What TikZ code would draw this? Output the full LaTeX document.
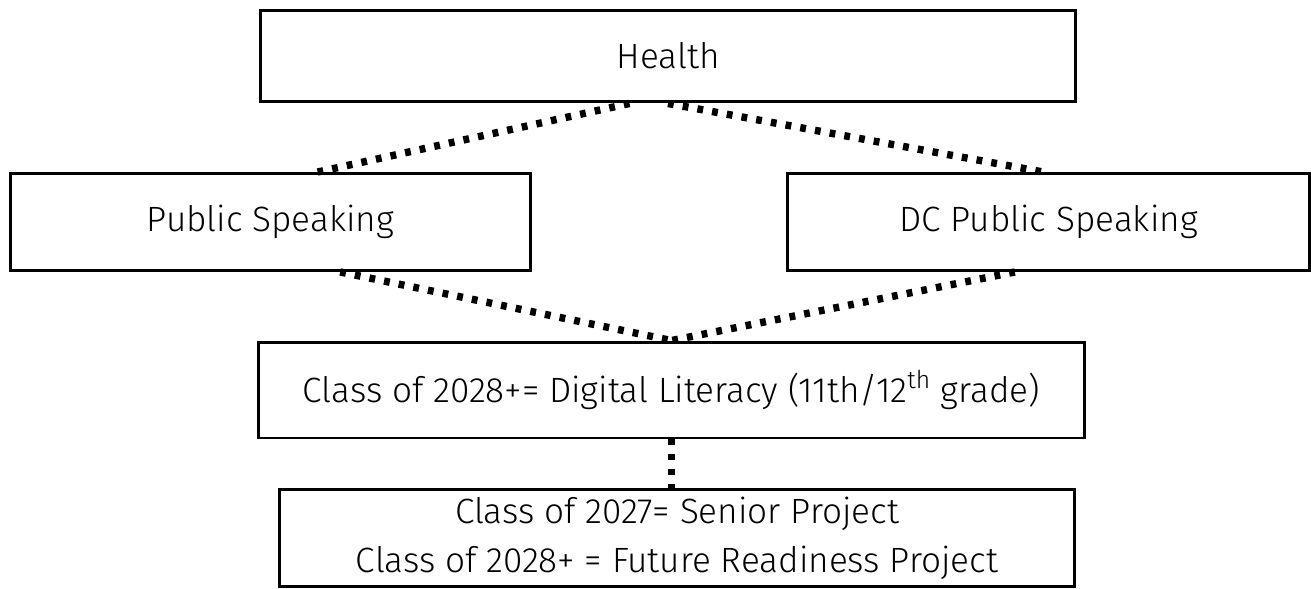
\documentclass[tikz,border=0pt]{standalone}
\usepackage{fontspec}
\setmainfont{Fira Sans Light}
\usetikzlibrary{calc}

\begin{document}
\begin{tikzpicture}[x=0.02cm,y=-0.02cm,
    box/.style={draw,line width=1.7pt,align=center,inner sep=0pt,
                font=\fontsize{20}{28}\selectfont},
    link/.style={line width=4.2pt,dash pattern=on 3.3pt off 5.2pt}]

  \useasboundingbox (0,0) rectangle (1311,588);

  \node[box,minimum width=16.32cm,minimum height=1.84cm] (hl)  at (668,56)    {Health};
  \node[box,minimum width=10.42cm,minimum height=1.94cm] (ps)  at (270.5,222) {Public Speaking};
  \node[box,minimum width=10.46cm,minimum height=1.94cm] (dc)  at (1048.5,222) {DC Public Speaking};
  \node[box,minimum width=16.54cm,minimum height=1.92cm] (dl)  at (671.5,390) {Class of 2028+= Digital Literacy (11th/12\textsuperscript{th} grade)};
  \node[box,minimum width=15.90cm,minimum height=1.94cm] (sp)  at (677,538)   {Class of 2027= Senior Project\\Class of 2028+ = Future Readiness Project};

  % dotted links
  \draw[link] ($(hl.south west)!0.453!(hl.south east)$) -- ($(ps.north west)!0.59!(ps.north east)$);
  \draw[link] (hl.south) -- ($(dc.north west)!0.49!(dc.north east)$);
  \draw[link] ($(ps.south west)!0.633!(ps.south east)$) -- (dl.north);
  \draw[link] ($(dc.south west)!0.436!(dc.south east)$) -- (dl.north);
  \draw[link] (dl.south) -- (dl.south |- sp.north);
\end{tikzpicture}
\end{document}
